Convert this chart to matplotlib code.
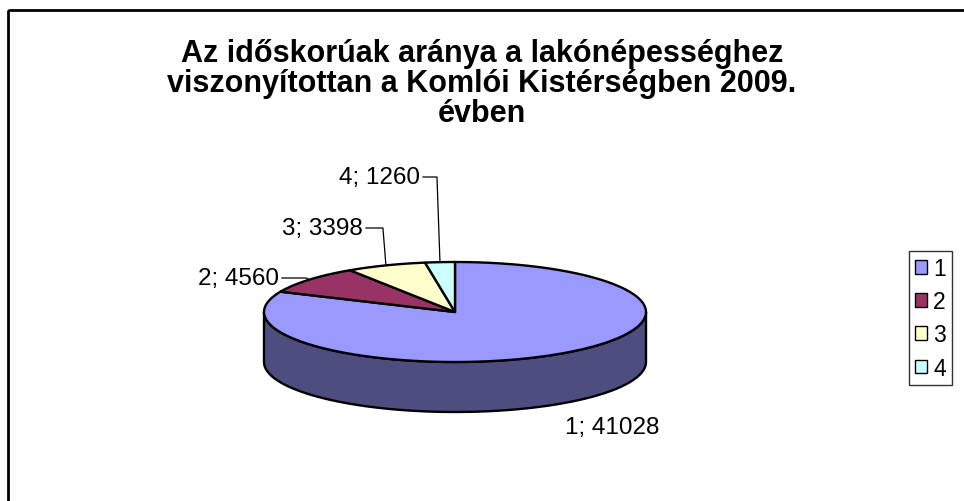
import numpy as np
import matplotlib.pyplot as plt
from matplotlib.patches import Polygon, Rectangle, Patch

plt.rcParams['font.family'] = ['Liberation Sans', 'DejaVu Sans']

# Adatok
labels = ['1', '2', '3', '4']
values = [41028, 4560, 3398, 1260]
top_colors = ['#9999FF', '#993366', '#FFFFCC', '#CCFFFF']
side_colors = ['#4D4D80', '#4D1A33', '#808066', '#668080']
title = ('Az időskorúak aránya a lakónépességhez\n'
         'viszonyítottan a Komlói Kistérségben 2009.\n'
         'évben')

# címke-pozíciók (pixel): szöveg jobb széle / közepe
label_pos = [(612, 428, 'center'), (279, 279, 'right'),
             (363, 229, 'right'), (420, 178, 'right')]

# a 3D-s torta geometriája pixelben
cx, cy = 455, 313
rx, ry = 191, 50
depth = 50


def ell(theta, dy=0.0):
    t = np.radians(theta)
    return cx + rx * np.cos(t), cy - ry * np.sin(t) + dy


def arc(a, b, dy=0.0, n=120):
    th = np.linspace(a, b, n)
    x, y = ell(th, dy)
    return np.column_stack([x, y])


fig = plt.figure(figsize=(9.64, 5.02), dpi=100)
ax = fig.add_axes([0, 0, 1, 1])
ax.set_xlim(0, 964)
ax.set_ylim(502, 0)
ax.axis('off')

# szeletek szögei (12 órától, óramutató irányában)
total = float(sum(values))
angles = []
start = 90.0
for v in values:
    end = start - v / total * 360.0
    angles.append((start, end))
    start = end

# oldalfal (csak az elülső fél látszik)
for (a0, a1), sc in zip(angles, side_colors):
    for k in range(-2, 2):
        lo = max(a1, 180 + 360 * k)
        hi = min(a0, 360 + 360 * k)
        if lo < hi:
            pts = np.vstack([arc(lo, hi), arc(hi, lo, depth)])
            ax.add_patch(Polygon(pts, closed=True, facecolor=sc,
                                 edgecolor='black', lw=1.7, joinstyle='round'))

# felső lap
for (a0, a1), tc in zip(angles, top_colors):
    pts = np.vstack([[cx, cy], arc(a0, a1)])
    ax.add_patch(Polygon(pts, closed=True, facecolor=tc,
                         edgecolor='black', lw=1.7, joinstyle='round'))

# adatcímkék vezetővonallal
for i, ((a0, a1), v, lab, (tx, ty, ha)) in enumerate(zip(angles, values, labels, label_pos)):
    ax.text(tx, ty, f'{lab}; {v}', fontsize=17.5, ha=ha, va='center')
    if ha == 'right':
        mx, my = ell((a0 + a1) / 2)
        ax.plot([tx + 3, mx - 3, mx], [ty, ty, my], color='black', lw=0.9)

# cím
ax.text(482, 84, title, fontsize=22, fontweight='bold', ha='center',
        va='center', linespacing=1.0)

# keret
ax.add_patch(Rectangle((8, 11), 975, 520, fill=False, edgecolor='black', lw=2))

# jelmagyarázat
handles = [Patch(facecolor=c, edgecolor='black', lw=1) for c in top_colors]
leg = fig.legend(handles, labels, loc='upper left',
                 bbox_to_anchor=(909 / 964, 1 - 252 / 502),
                 fontsize=16.5, frameon=True, fancybox=False,
                 handlelength=0.55, handleheight=0.55, handletextpad=0.25,
                 labelspacing=0.45, borderpad=0.25, borderaxespad=0)
leg.get_frame().set_edgecolor('black')
leg.get_frame().set_linewidth(1)

fig.savefig('out.png', dpi=100)
